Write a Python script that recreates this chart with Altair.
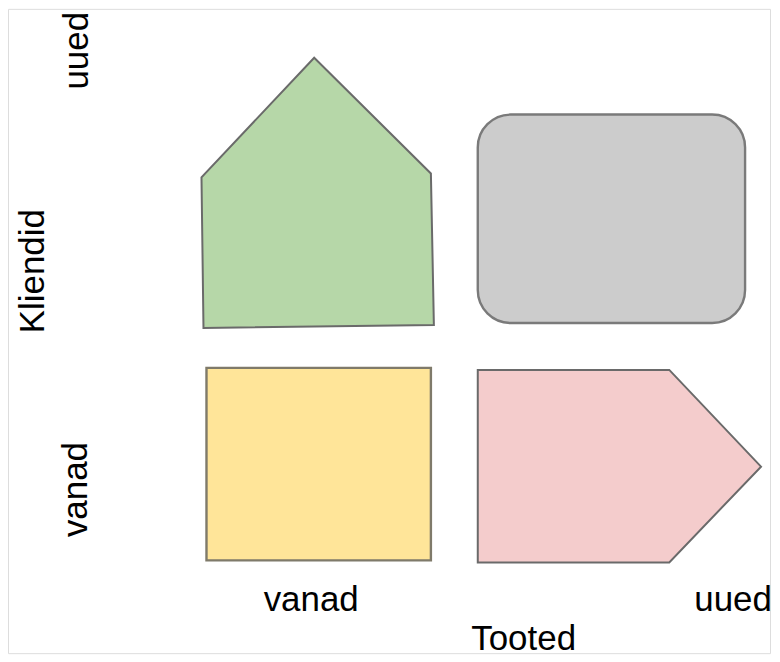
import altair as alt
import pandas as pd

# Reference-space coordinates (pixels of the 780x662 picture)
house_x = [315, 432, 435, 204, 202, 315]
house_y = [57, 173, 325, 328, 177, 57]
arrow_x = [479, 671, 763, 671, 479, 479]
arrow_y = [370, 370, 467, 563, 563, 370]

rect_names = ["grey", "yellow"]
rect_x1 = [479, 207]
rect_x2 = [747, 432]
rect_y1 = [114, 368]
rect_y2 = [323, 561]
rect_colors = ["#cccccc", "#ffe599"]

label_text = ["uued", "Kliendid", "vanad", "vanad", "uued", "Tooted"]
label_x = [77, 33, 76, 312, 735, 525]
label_y = [50, 271, 490, 601, 601, 640]
label_angle = [270, 270, 270, 0, 0, 0]

W, H = 764, 646
xs = alt.Scale(domain=[8, 8 + W], nice=False, zero=False)
ys = alt.Scale(domain=[8, 8 + H], nice=False, zero=False, reverse=True)

house = pd.DataFrame({"x": house_x, "y": house_y, "i": range(len(house_x))})
arrow = pd.DataFrame({"x": arrow_x, "y": arrow_y, "i": range(len(arrow_x))})
rects = pd.DataFrame({"name": rect_names, "x1": rect_x1, "x2": rect_x2,
                      "y1": rect_y1, "y2": rect_y2, "c": rect_colors})
labels = pd.DataFrame({"t": label_text, "x": label_x, "y": label_y, "a": label_angle})

def poly(df, fill):
    return alt.Chart(df).mark_line(filled=True, fill=fill, stroke="#6a6a6a",
                                   strokeWidth=2, interpolate="linear-closed").encode(
        x=alt.X("x:Q", scale=xs, axis=None),
        y=alt.Y("y:Q", scale=ys, axis=None),
        order="i:Q",
    )

grey = alt.Chart(rects[rects.name == "grey"]).mark_rect(
    cornerRadius=33, stroke="#7a7a7a", strokeWidth=2.4, fill="#cccccc").encode(
    x=alt.X("x1:Q", scale=xs, axis=None), x2="x2:Q",
    y=alt.Y("y1:Q", scale=ys, axis=None), y2="y2:Q",
)
yellow = alt.Chart(rects[rects.name == "yellow"]).mark_rect(
    stroke="#7f7a6a", strokeWidth=2.4, fill="#ffe599").encode(
    x=alt.X("x1:Q", scale=xs, axis=None), x2="x2:Q",
    y=alt.Y("y1:Q", scale=ys, axis=None), y2="y2:Q",
)

text = alt.Chart(labels).mark_text(font="Liberation Sans", fontSize=35,
                                   color="#000000", align="center",
                                   baseline="middle").encode(
    x=alt.X("x:Q", scale=xs, axis=None),
    y=alt.Y("y:Q", scale=ys, axis=None),
    text="t:N",
    angle=alt.Angle("a:Q", scale=None),
)

chart = alt.layer(poly(house, "#b6d7a8"), grey, yellow, poly(arrow, "#f4cccc"), text).properties(
    width=W, height=H, padding=0
).configure_view(stroke="transparent", strokeWidth=0).configure(background="white")

chart.save("out.html", embed_options={"renderer": "svg", "actions": False})
